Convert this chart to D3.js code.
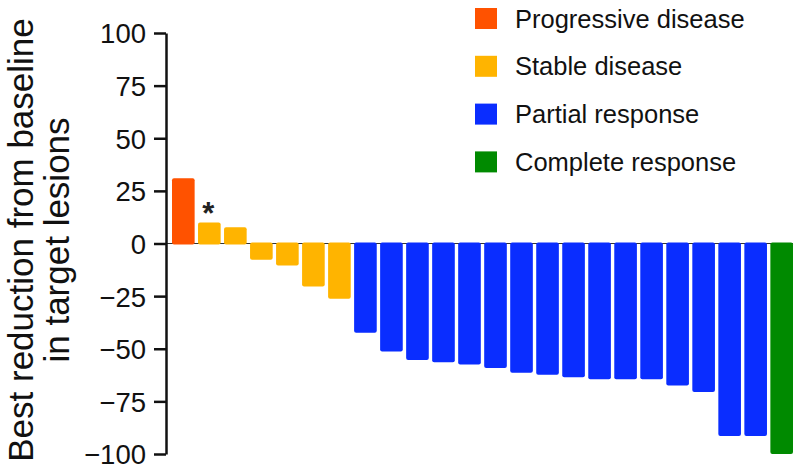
<!DOCTYPE html>
<html lang="en">
<head>
<meta charset="UTF-8">
<title>Waterfall - best reduction in target lesions</title>
<style>
    body { margin: 0; background: #fff; }
    svg { display: block; font-family: "Liberation Sans", Arial, sans-serif; }
</style>
</head>
<body>
<svg width="800" height="471"></svg>
<script src="https://d3js.org/d3.v7.min.js"></script>
<script>
    // one bar per patient, sorted
    const patients = d3.range(1, 25).map(String);
    const reduction = [31, 10, 7.7, -7.7, -10.5, -20.4, -26.3,
        -42.4, -51.3, -55.3, -56.4, -57.5, -59.2, -61.4, -62.4, -63.5,
        -64.5, -64.5, -64.5, -67.5, -70.5, -91.5, -91.5, -100];
    const response = ["PD", "SD", "SD", "SD", "SD", "SD", "SD",
        "PR", "PR", "PR", "PR", "PR", "PR", "PR", "PR", "PR",
        "PR", "PR", "PR", "PR", "PR", "PR", "PR", "CR"];
    const flagged = ["2"]; // bar with the asterisk

    const groupKeys = ["PD", "SD", "PR", "CR"];
    const groupLabels = ["Progressive disease", "Stable disease", "Partial response", "Complete response"];
    const groupColors = ["#ff5200", "#ffb400", "#0a2dff", "#008a00"];

    const yTicks = [100, 75, 50, 25, 0, -25, -50, -75, -100];

    const svg = d3.select("svg");

    const x = d3.scaleBand()
        .domain(patients)
        .range([172, 793])
        .paddingInner(0.13)
        .paddingOuter(0);

    const y = d3.scaleLinear()
        .domain([-100, 100])
        .range([454, 33]);

    const color = d3.scaleOrdinal().domain(groupKeys).range(groupColors);

    // zero line, only shows in the gaps
    svg.append("line")
        .attr("x1", 166).attr("x2", 793)
        .attr("y1", y(0)).attr("y2", y(0))
        .attr("stroke", "#333")
        .attr("stroke-width", 1.2);

    svg.append("g")
        .selectAll("rect")
        .data(patients)
        .join("rect")
        .attr("x", d => x(d))
        .attr("width", x.bandwidth())
        .attr("y", (d, i) => y(Math.max(0, reduction[i])) - (reduction[i] < 0 ? 1 : 0))
        .attr("height", (d, i) => Math.abs(y(reduction[i]) - y(0)) + 1)
        .attr("rx", 2)
        .attr("fill", (d, i) => color(response[i]));

    svg.append("g")
        .selectAll("text")
        .data(flagged)
        .join("text")
        .attr("x", d => x(d) + x.bandwidth() / 2 - 1)
        .attr("y", d => y(reduction[patients.indexOf(d)]) + 2)
        .attr("text-anchor", "middle")
        .attr("font-size", 31)
        .attr("font-weight", "bold")
        .attr("fill", "#222")
        .text("*");

    // y axis
    const yAxis = svg.append("g")
        .attr("transform", "translate(166,0)")
        .call(d3.axisLeft(y).tickValues(yTicks).tickSize(12).tickPadding(8).tickSizeOuter(0));
    yAxis.select(".domain").attr("stroke", "#111").attr("stroke-width", 2.5);
    yAxis.selectAll(".tick line").attr("stroke", "#111").attr("stroke-width", 2.5);
    yAxis.selectAll(".tick text")
        .attr("font-size", 27.5)
        .attr("font-family", "Liberation Sans, Arial, sans-serif")
        .attr("fill", "#111")
        .attr("dy", "0.36em");

    // axis title, two lines
    const title = svg.append("text")
        .attr("transform", "translate(0,240) rotate(-90)")
        .attr("text-anchor", "middle")
        .attr("font-size", 35)
        .attr("fill", "#111");
    title.append("tspan").attr("x", 0).attr("y", 33).text("Best reduction from baseline");
    title.append("tspan").attr("x", 0).attr("y", 69).text("in target lesions");

    // legend
    const legend = svg.append("g")
        .selectAll("g")
        .data(groupKeys)
        .join("g")
        .attr("transform", (d, i) => `translate(475,${8 + i * 47.8})`);

    legend.append("rect")
        .attr("width", 22)
        .attr("height", 21)
        .attr("fill", d => color(d));

    legend.append("text")
        .attr("x", 40)
        .attr("y", 10.5)
        .attr("dy", "0.36em")
        .attr("font-size", 25.5)
        .attr("fill", "#111")
        .text((d, i) => groupLabels[i]);
</script>
</body>
</html>
